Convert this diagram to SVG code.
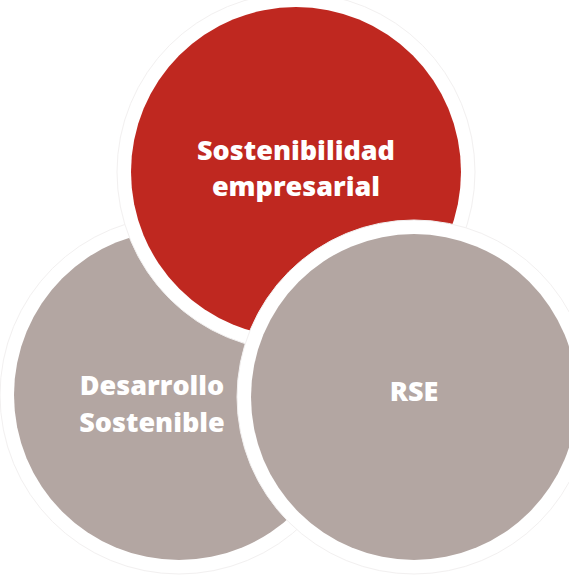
<svg xmlns="http://www.w3.org/2000/svg" width="569" height="576" viewBox="0 0 569 576">
<style>
.halo{fill:#ffffff;stroke:#f2f0f0;stroke-width:1}
.gray{fill:#b3a6a2}
.red{fill:#bf2820}
.lbl{font-family:"Open Sans","Noto Sans","Liberation Sans",sans-serif;font-weight:800;font-size:27px;fill:#ffffff;text-anchor:middle}
</style>
<rect width="569" height="576" fill="#ffffff"/>
<g id="desarrollo">
<circle class="halo" cx="179" cy="395" r="179"/>
<circle class="gray" cx="179" cy="395" r="165"/>
<text class="lbl" x="152" y="395">Desarrollo</text>
<text class="lbl" x="152" y="432">Sostenible</text>
</g>
<g id="sostenibilidad">
<circle class="halo" cx="296" cy="172" r="179"/>
<circle class="red" cx="296" cy="172" r="165"/>
<text class="lbl" x="296" y="160">Sostenibilidad</text>
<text class="lbl" x="296" y="196">empresarial</text>
</g>
<g id="rse">
<circle class="halo" cx="414" cy="397" r="177"/>
<circle class="gray" cx="414" cy="397" r="163"/>
<text class="lbl" x="414" y="401">RSE</text>
</g>
<g id="connectors"/>
</svg>
